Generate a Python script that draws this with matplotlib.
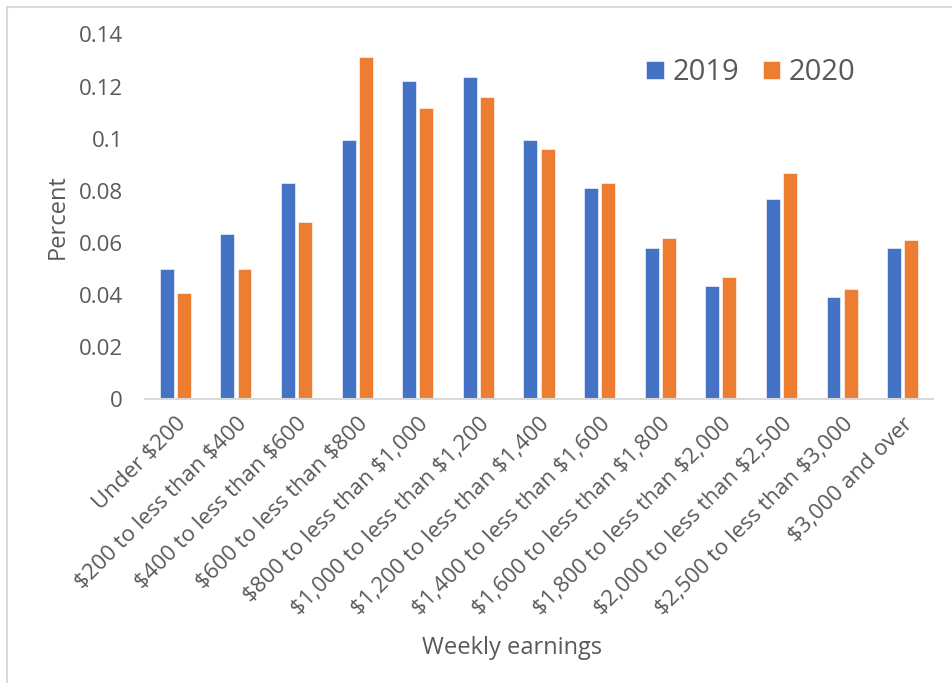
import matplotlib.pyplot as plt
import numpy as np
from matplotlib.lines import Line2D

# Datos
categorias = ["Under $200", "$200 to less than $400", "$400 to less than $600",
              "$600 to less than $800", "$800 to less than $1,000",
              "$1,000 to less than $1,200", "$1,200 to less than $1,400",
              "$1,400 to less than $1,600", "$1,600 to less than $1,800",
              "$1,800 to less than $2,000", "$2,000 to less than $2,500",
              "$2,500 to less than $3,000", "$3,000 and over"]
v2019 = [0.0499, 0.0634, 0.0829, 0.0994, 0.1220, 0.1237, 0.0994,
         0.0813, 0.0583, 0.0437, 0.0768, 0.0394, 0.0583]
v2020 = [0.0409, 0.0501, 0.0680, 0.1313, 0.1119, 0.1159, 0.0960,
         0.0829, 0.0621, 0.0469, 0.0867, 0.0423, 0.0612]
yticks = [0, 0.02, 0.04, 0.06, 0.08, 0.1, 0.12, 0.14]
ytick_labels = ["0", "0.02", "0.04", "0.06", "0.08", "0.1", "0.12", "0.14"]

plt.rcParams['font.family'] = ['Open Sans', 'DejaVu Sans']
plt.rcParams['text.parse_math'] = False
gris = "#595959"

fig = plt.figure(figsize=(9.52, 6.83), dpi=100)
ax = fig.add_axes([145 / 952, 1 - 399.5 / 683, (933 - 145) / 952, (399.5 - 34.5) / 683])

x = np.arange(len(categorias))
ax.bar(x - 0.1415, v2019, 0.23, color="#4472C4", edgecolor="white", linewidth=0.4, label="2019")
ax.bar(x + 0.1415, v2020, 0.23, color="#ED7D31", edgecolor="white", linewidth=0.4, label="2020")

ax.set_xlim(-0.5, len(categorias) - 0.5)
ax.set_ylim(0, 0.14)
ax.set_yticks(yticks)
ax.set_yticklabels(ytick_labels, fontsize=16, color=gris)
ax.set_xticks(x)
ax.set_xticklabels(categorias, rotation=45, ha="right", rotation_mode="anchor",
                   fontsize=16, color=gris)
ax.tick_params(length=0)
ax.tick_params(axis="y", pad=16)
ax.tick_params(axis="x", pad=10)
for s in ["top", "right", "left"]:
    ax.spines[s].set_visible(False)
ax.spines["bottom"].set_color("#d9d9d9")
ax.spines["bottom"].set_linewidth(1.5)

fig.text(58 / 952, 1 - 217 / 683, "Percent", rotation=90, ha="center", va="center",
         fontsize=17, color=gris)
fig.text(512 / 952, 1 - 648 / 683, "Weekly earnings", ha="center", va="center",
         fontsize=17, color=gris)

fig.legend(loc="center", bbox_to_anchor=(751 / 952, 1 - 73 / 683), ncol=2, frameon=False,
           fontsize=21, labelcolor=gris, handlelength=0.6, handleheight=0.6,
           handletextpad=0.3, columnspacing=0.8)

# marco del gráfico
fig.add_artist(Line2D([6.5 / 952, 6.5 / 952, 1], [0, 1 - 6.5 / 683, 1 - 6.5 / 683],
                      color="#d9d9d9", linewidth=1.5))

plt.savefig("out.png", dpi=100)
